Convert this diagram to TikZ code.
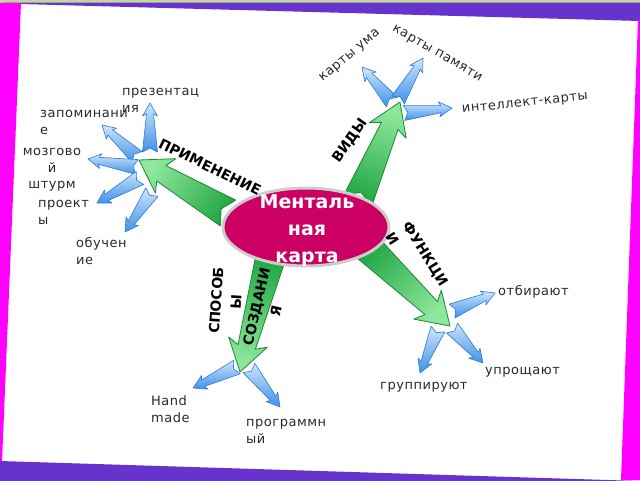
\documentclass[tikz,border=0pt]{standalone}
\usepackage{fontspec}
\setmainfont{DejaVu Sans}
\newfontfamily\lblfont[LetterSpace=4]{DejaVu Sans}
\usetikzlibrary{calc,shapes.geometric}
\pgfdeclarelayer{bg}
\pgfsetlayers{bg,main}
\definecolor{mag}{HTML}{FF00FF}
\definecolor{purp}{HTML}{6633CC}
\definecolor{lgreen}{HTML}{C3D69B}
\definecolor{crim}{HTML}{CC0062}
\definecolor{gdark}{HTML}{1A8A36}
\definecolor{glight}{HTML}{8FE79C}
\definecolor{gmid}{HTML}{22A845}
\definecolor{bdark}{HTML}{2A7BD6}
\definecolor{blight}{HTML}{CFE5FB}
\definecolor{bmid}{HTML}{3F92E8}
\definecolor{txt}{HTML}{2A2A2A}
\newcommand\fatarr[9]{%
 \path[#1] ($(#2)!#9!(#3)$) -- ($(#2)!#4!90:(#3)$) -- ($(#3)!#7!(#2)!#5!-90:(#2)$) -- ($(#3)!#8!(#2)!#6!-90:(#2)$) -- (#3) -- ($(#3)!#8!(#2)!#6!90:(#2)$) -- ($(#3)!#7!(#2)!#5!90:(#2)$) -- ($(#2)!#4!-90:(#3)$) -- cycle;}
\newcommand\garr[3]{\fatarr{greenarr,shading angle=#3}{#1}{#2}{15pt}{9pt}{20pt}{26pt}{31pt}{8pt}}
\newcommand\barr[2]{\fatarr{bluearr}{#1}{#2}{7.5pt}{3.5pt}{7.5pt}{11pt}{13pt}{4pt}}
\tikzset{
 greenarr/.style={draw=gdark, line width=0.8pt, line join=round, top color=glight, bottom color=gmid},
 bluearr/.style={draw=bdark, line width=0.6pt, line join=round, top color=blight, bottom color=bmid},
 lbl/.style={font=\lblfont\fontsize{13}{17}\selectfont, text=txt, inner sep=0pt},
 capt/.style={font=\bfseries\fontsize{14}{20}\selectfont, text=black, inner sep=0pt},
}
\begin{document}
\begin{tikzpicture}[x=1pt,y=-1pt]
\useasboundingbox (0,0) rectangle (640,480);
\begin{pgfonlayer}{bg}
\fill[white] (0,0) rectangle (640,480);
\fill[lgreen] (0,0) rectangle (640,3);
\fill[purp] (0,2.5) -- (640,2.5) -- (640,21) -- (20,4) -- cycle;
\fill[mag] (0,3) -- (21,3) -- (2,462) -- (0,462) -- cycle;
\fill[purp] (0,461) -- (640,481) -- (0,481) -- cycle;
\fill[mag] (638,20) -- (640,20) -- (640,480) -- (621,480) -- cycle;
\end{pgfonlayer}

% centre
\node[ellipse, fill=crim, draw=white!80!black, line width=3pt, minimum width=166pt, minimum height=78pt, inner sep=0pt] (m) at (306,227) {};
\node[font=\bfseries\fontsize{19}{27}\selectfont, text=white, align=center, inner sep=0pt] (mt) at (307,231) {Менталь\\ная\\карта};

% hubs and tails
\coordinate (tA) at (228,213); \coordinate (hA) at (139,160);
\coordinate (tB) at (358,200); \coordinate (hB) at (400,102);
\coordinate (tC) at (366,246); \coordinate (hC) at (450,326);
\coordinate (tD) at (271,256); \coordinate (hD) at (240,372);

% blue bases
\coordinate (a1) at (150,152); \coordinate (a2) at (137,157); \coordinate (a3) at (137,167); \coordinate (a4) at (140,178); \coordinate (a5) at (152,192);
\coordinate (b1) at (392,102); \coordinate (b2) at (398,100); \coordinate (b3) at (404,113);
\coordinate (c1) at (452,311); \coordinate (c2) at (452,328); \coordinate (c3) at (438,329);
\coordinate (d1) at (237,367); \coordinate (d2) at (249,368);

% blue tips
\coordinate (pa1) at (150,103); \coordinate (pa2) at (102,125); \coordinate (pa3) at (88,159); \coordinate (pa4) at (97,203); \coordinate (pa5) at (125,232);
\coordinate (pb1) at (362,67); \coordinate (pb2) at (423,58); \coordinate (pb3) at (452,108);
\coordinate (pc1) at (495,293); \coordinate (pc2) at (483,363); \coordinate (pc3) at (420,373);
\coordinate (pd1) at (193,388); \coordinate (pd2) at (280,407);

\begin{pgfonlayer}{bg}
\garr{tA}{hA}{58}
\garr{tB}{hB}{-23}
\garr{tC}{hC}{-134}
\garr{tD}{hD}{165}
\barr{a1}{pa1}\barr{a2}{pa2}\barr{a3}{pa3}\barr{a4}{pa4}\barr{a5}{pa5}
\barr{b1}{pb1}\barr{b2}{pb2}\barr{b3}{pb3}
\barr{c1}{pc1}\barr{c2}{pc2}\barr{c3}{pc3}
\barr{d1}{pd1}\barr{d2}{pd2}
\end{pgfonlayer}

% branch captions
\node[capt, rotate=-26] (cA) at (210,167) {ПРИМЕНЕНИЕ};
\node[capt, rotate=55] (cB) at (350,141) {ВИДЫ};
\node[capt, rotate=-58, align=left] (cC) at (417,259) {ФУНКЦИ\\И};
\node[capt, rotate=86, align=center] (cD1) at (226,301) {СПОСОБ\\Ы};
\node[capt, rotate=77, align=center] (cD2) at (266,309) {СОЗДАНИ\\Я};

% leaf labels
\node[lbl, anchor=west, align=left] (l1) at (122,100) {презентац\\ия};
\node[lbl, anchor=west, align=left] (l2) at (40,122) {запоминани\\е};
\node[lbl, align=center] (l3) at (52,160) {мозгово\\й};
\node[lbl] (l3b) at (52,186) {штурм};
\node[lbl, anchor=west, align=left] (l4) at (38,212) {проект\\ы};
\node[lbl, anchor=west, align=left] (l5) at (76,251) {обучен\\ие};
\node[lbl, rotate=40] (l6) at (350,56) {карты ума};
\node[lbl, rotate=-30] (l7) at (437,54) {карты памяти};
\node[lbl, rotate=6] (l8) at (525,104) {интеллект-карты};
\node[lbl, anchor=west] (l9) at (498,292) {отбирают};
\node[lbl, anchor=west] (l10) at (485,372) {упрощают};
\node[lbl, anchor=west] (l11) at (380,387) {группируют};
\node[lbl, anchor=west, align=left] (l12) at (151,409) {Hand\\made};
\node[lbl, anchor=west, align=left] (l13) at (246,431) {программн\\ый};
\end{tikzpicture}
\end{document}
